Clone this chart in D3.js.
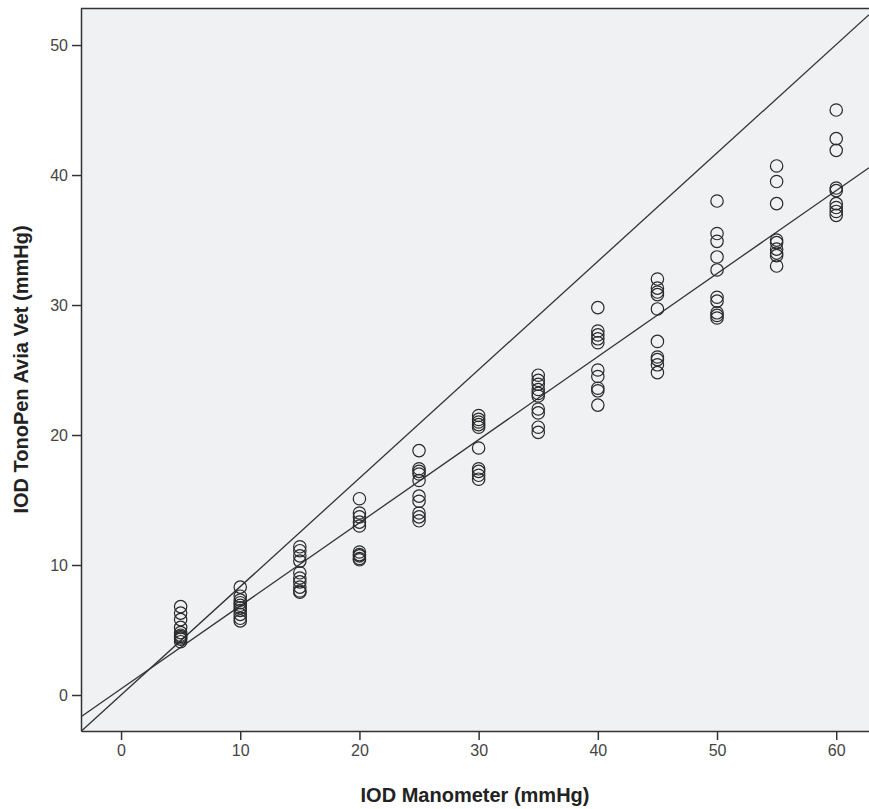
<!DOCTYPE html>
<html>
<head>
<meta charset="utf-8">
<script src="https://cdn.jsdelivr.net/npm/d3@7"></script>
<style>
  body { margin: 0; background: #fff; }
  svg { display: block; font-family: "Liberation Sans", Arial, sans-serif; }
  .tick text { fill: #444; font-size: 16px; }
  .tick line, .domain { stroke: #333; }
</style>
</head>
<body>
<svg id="chart" width="869" height="809"></svg>
<script>
// manometer pressure levels (x) and TonoPen readings (y) per level
const levels = [5, 10, 15, 20, 25, 30, 35, 40, 45, 50, 55, 60]
const readings = [
  [6.8, 6.3, 5.8, 5.2, 4.8, 4.6, 4.5, 4.4, 4.3, 4.1],
  [8.3, 7.6, 7.3, 7.1, 6.9, 6.7, 6.5, 6.2, 5.9, 5.7],
  [11.4, 11.1, 10.7, 10.3, 9.4, 9.0, 8.7, 8.3, 8.0, 7.9],
  [15.1, 14.0, 13.7, 13.3, 13.0, 11.0, 10.8, 10.7, 10.5, 10.4],
  [18.8, 17.4, 17.2, 17.0, 16.5, 15.3, 14.9, 14.0, 13.7, 13.4],
  [21.5, 21.2, 21.0, 20.8, 20.6, 19.0, 17.4, 17.2, 16.9, 16.6],
  [24.6, 24.2, 23.9, 23.5, 23.2, 23.0, 22.0, 21.7, 20.6, 20.2],
  [29.8, 28.0, 27.7, 27.4, 27.1, 25.0, 24.5, 23.6, 23.4, 22.3],
  [32.0, 31.3, 31.0, 30.8, 29.7, 27.2, 26.0, 25.8, 25.4, 24.8],
  [38.0, 35.5, 34.9, 33.7, 32.7, 30.6, 30.3, 29.4, 29.2, 29.0],
  [40.7, 39.5, 37.8, 35.0, 34.8, 34.3, 34.0, 33.8, 33.0],
  [45.0, 42.8, 41.9, 39.0, 38.8, 37.8, 37.5, 37.2, 36.9]
]
// fitted lines: [intercept, slope]
const fitLines = [[0.0, 0.834], [0.47, 0.639]]
const xTicks = [0, 10, 20, 30, 40, 50, 60]
const yTicks = [0, 10, 20, 30, 40, 50]
const xTitle = 'IOD Manometer (mmHg)'
const yTitle = 'IOD TonoPen Avia Vet (mmHg)'

const PLOT_LEFT = 81, PLOT_TOP = 8, PLOT_RIGHT = 869, PLOT_BOTTOM = 731
const X_MIN = -3.36, X_MAX = 62.75

const svg = d3.select('#chart')

const x = d3.scaleLinear().domain([X_MIN, X_MAX]).range([PLOT_LEFT, PLOT_RIGHT])
const y = d3.scaleLinear().domain([-2.77, 52.85]).range([PLOT_BOTTOM, PLOT_TOP])

svg.append('rect')
  .attr('x', PLOT_LEFT).attr('y', PLOT_TOP)
  .attr('width', PLOT_RIGHT - PLOT_LEFT).attr('height', PLOT_BOTTOM - PLOT_TOP)
  .attr('fill', '#f0f1f3')

svg.append('line')
  .attr('x1', PLOT_LEFT).attr('x2', PLOT_RIGHT)
  .attr('y1', PLOT_TOP + 0.5).attr('y2', PLOT_TOP + 0.5)
  .attr('stroke', '#333').attr('stroke-width', 1.5)

const points = []
levels.forEach((lv, i) => readings[i].forEach((v) => points.push([lv, v])))

// clip the fit lines to the plot area
svg.append('clipPath').attr('id', 'plot-clip')
  .append('rect')
  .attr('x', PLOT_LEFT).attr('y', PLOT_TOP)
  .attr('width', PLOT_RIGHT - PLOT_LEFT).attr('height', PLOT_BOTTOM - PLOT_TOP)

svg.append('g')
  .attr('clip-path', 'url(#plot-clip)')
  .selectAll('line')
  .data(fitLines)
  .join('line')
  .attr('x1', x(X_MIN)).attr('x2', x(X_MAX))
  .attr('y1', (d) => y(d[0] + d[1] * X_MIN))
  .attr('y2', (d) => y(d[0] + d[1] * X_MAX))
  .attr('stroke', '#333')
  .attr('stroke-width', 1.3)

svg.append('g')
  .selectAll('circle')
  .data(points)
  .join('circle')
  .attr('cx', (d) => x(d[0]))
  .attr('cy', (d) => y(d[1]))
  .attr('r', 6.2)
  .attr('fill', 'none')
  .attr('stroke', '#2a2a2a')
  .attr('stroke-width', 1.2)

const xAxis = svg.append('g')
  .attr('transform', `translate(0,${PLOT_BOTTOM})`)
  .call(d3.axisBottom(x).tickValues(xTicks).tickSize(9).tickPadding(5).tickSizeOuter(0))
xAxis.select('.domain').attr('stroke-width', 1.5)
xAxis.selectAll('.tick line').attr('stroke-width', 1.5)

const yAxis = svg.append('g')
  .attr('transform', `translate(${PLOT_LEFT},0)`)
  .call(d3.axisLeft(y).tickValues(yTicks).tickSize(9).tickPadding(4).tickSizeOuter(0))
yAxis.select('.domain').attr('stroke-width', 1.5)
yAxis.selectAll('.tick line').attr('stroke-width', 1.5)
svg.selectAll('.tick text').attr('font-size', 16).attr('font-family', null)

svg.append('text')
  .attr('x', (PLOT_LEFT + PLOT_RIGHT) / 2)
  .attr('y', 802)
  .attr('text-anchor', 'middle')
  .attr('font-size', 20)
  .attr('font-weight', 'bold')
  .attr('fill', '#222')
  .text(xTitle)

svg.append('text')
  .attr('transform', `translate(28,${(PLOT_TOP + PLOT_BOTTOM) / 2}) rotate(-90)`)
  .attr('text-anchor', 'middle')
  .attr('font-size', 20)
  .attr('font-weight', 'bold')
  .attr('fill', '#222')
  .text(yTitle)
</script>
</body>
</html>
